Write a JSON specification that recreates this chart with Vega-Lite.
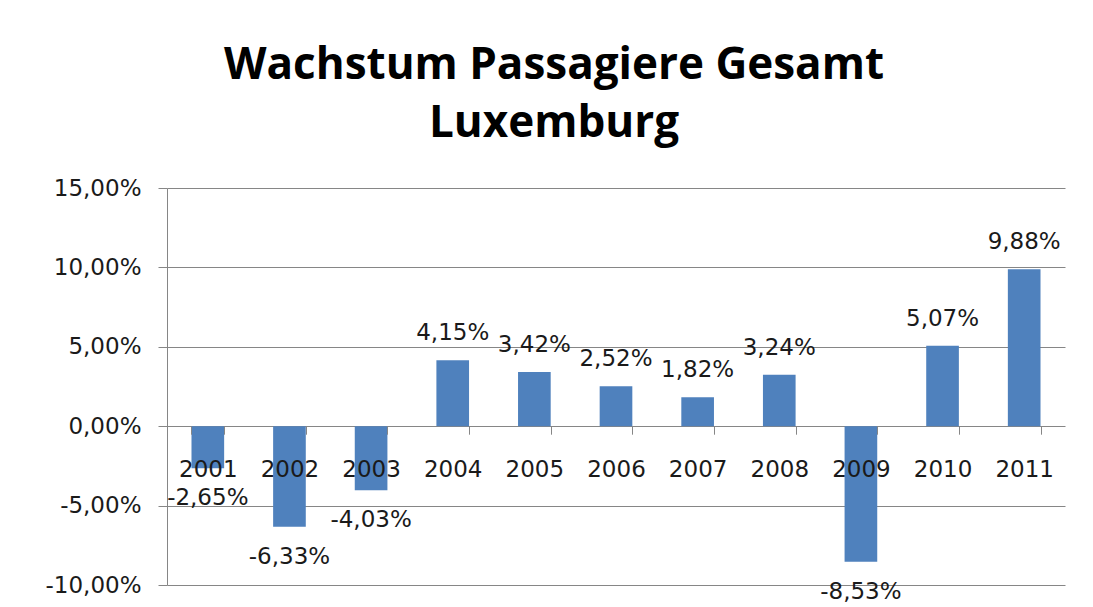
{
  "$schema": "https://vega.github.io/schema/vega-lite/v6.json",
  "autosize": {"type": "none"},
  "padding": {"left": 167, "top": 188, "right": 28, "bottom": 22},
  "width": 898,
  "height": 397,
  "background": "white",
  "title": {
    "text": ["Wachstum Passagiere Gesamt", "Luxemburg"],
    "anchor": "middle",
    "frame": "group",
    "dx": -62,
    "offset": 31,
    "font": "Open Sans",
    "fontWeight": "bold",
    "fontSize": 44,
    "lineHeight": 58,
    "color": "#000000"
  },
  "config": {
    "locale": {
      "number": {"decimal": ",", "thousands": ".", "grouping": [3], "currency": ["", " €"], "minus": "-"}
    },
    "view": {"stroke": null},
    "axis": {"labelFont": "DejaVu Sans", "labelFontSize": 23, "labelColor": "#1a1a1a"}
  },
  "data": {
    "values": [
      {"year": "2001", "growth": -0.0265},
      {"year": "2002", "growth": -0.0633},
      {"year": "2003", "growth": -0.0403},
      {"year": "2004", "growth": 0.0415},
      {"year": "2005", "growth": 0.0342},
      {"year": "2006", "growth": 0.0252},
      {"year": "2007", "growth": 0.0182},
      {"year": "2008", "growth": 0.0324},
      {"year": "2009", "growth": -0.0853},
      {"year": "2010", "growth": 0.0507},
      {"year": "2011", "growth": 0.0988}
    ]
  },
  "encoding": {
    "x": {
      "field": "year",
      "type": "nominal",
      "sort": null,
      "scale": {"paddingInner": 0.6, "paddingOuter": 0.3},
      "axis": {
        "title": null,
        "labelAngle": 0,
        "offset": -158.8,
        "domain": false,
        "tickColor": "#868686",
        "tickSize": 8,
        "tickBand": "extent",
        "labelPadding": 24,
        "grid": false,
        "zindex": 1
      }
    },
    "y": {
      "field": "growth",
      "type": "quantitative",
      "scale": {"domain": [-0.1, 0.15], "nice": false},
      "axis": {
        "title": null,
        "format": ".2%",
        "values": [-0.1, -0.05, 0, 0.05, 0.1, 0.15],
        "domainColor": "#868686",
        "tickColor": "#868686",
        "tickSize": 9,
        "labelPadding": 17,
        "gridColor": "#868686",
        "gridWidth": 1,
        "gridOpacity": 1,
        "zindex": 0
      }
    }
  },
  "layer": [
    {"mark": {"type": "bar", "color": "#4F81BD"}},
    {
      "transform": [{"filter": "datum.growth >= 0"}],
      "mark": {"type": "text", "font": "DejaVu Sans", "fontSize": 23, "color": "#1a1a1a", "baseline": "middle", "dy": -27},
      "encoding": {"text": {"field": "growth", "type": "quantitative", "format": ".2%"}}
    },
    {
      "transform": [{"filter": "datum.growth < 0"}],
      "mark": {"type": "text", "font": "DejaVu Sans", "fontSize": 23, "color": "#1a1a1a", "baseline": "middle", "dy": 30},
      "encoding": {"text": {"field": "growth", "type": "quantitative", "format": ".2%"}}
    }
  ]
}
